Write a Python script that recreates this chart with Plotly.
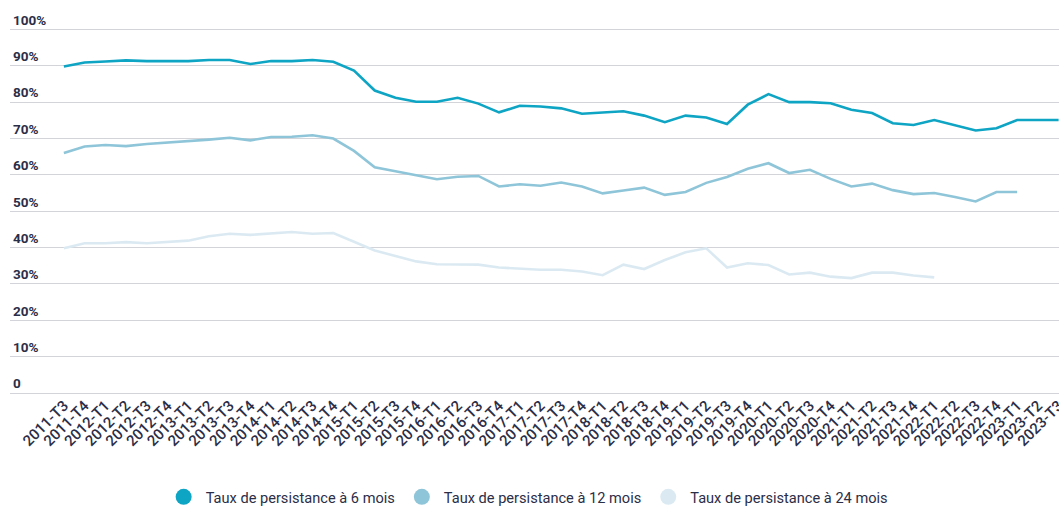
import plotly.graph_objects as go

# Quarterly periods (2011-T3 to 2023-T3)
quarters = (
    ["2011-T3", "2011-T4"]
    + [f"{y}-T{q}" for y in range(2012, 2023) for q in range(1, 5)]
    + ["2023-T1", "2023-T2", "2023-T3"]
)

# Persistence rates (%)
taux_6_mois = [
    89.8, 90.9, 91.2, 91.5, 91.3, 91.3, 91.3, 91.6, 91.6, 90.5,
    91.3, 91.3, 91.6, 91.1, 88.7, 83.2, 81.2, 80.1, 80.1, 81.2,
    79.6, 77.2, 79.0, 78.8, 78.3, 76.8, 77.1, 77.5, 76.3, 74.5,
    76.3, 75.8, 74.0, 79.3, 82.2, 80.0, 80.0, 79.7, 77.9, 77.0,
    74.2, 73.7, 75.1, 73.6, 72.2, 72.8, 75.1, 75.1, 75.1,
]
taux_12_mois = [
    66.0, 67.8, 68.2, 67.9, 68.5, 68.9, 69.1, 69.7, 70.2, 69.5,
    70.4, 70.5, 70.9, 70.0, 66.6, 62.1, 61.0, 60.0, 58.8, 59.5,
    59.7, 56.8, 57.4, 57.0, 57.9, 56.8, 54.9, 55.7, 56.5, 54.5,
    55.3, 57.8, 59.4, 61.7, 63.2, 60.5, 61.4, 58.9, 56.8, 57.6,
    55.8, 54.7, 55.0, 53.9, 52.7, 55.3, 55.3,
]
taux_24_mois = [
    39.8, 41.2, 41.2, 41.5, 41.2, 41.5, 41.9, 43.1, 43.8, 43.5,
    43.8, 44.3, 43.8, 44.0, 41.6, 39.2, 37.7, 36.2, 35.4, 35.4,
    35.3, 34.5, 34.2, 33.9, 33.9, 33.4, 32.4, 35.3, 34.1, 36.6,
    38.7, 39.8, 34.5, 35.7, 35.2, 32.6, 33.1, 32.0, 31.6, 33.1,
    33.1, 32.3, 31.8,
]

series_names = [
    "Taux de persistance à 6 mois",
    "Taux de persistance à 12 mois",
    "Taux de persistance à 24 mois",
]
series_values = [taux_6_mois, taux_12_mois, taux_24_mois]
series_colors = ["#0ea4c4", "#8fc5d8", "#dbeaf2"]

y_tickvals = [0, 10, 20, 30, 40, 50, 60, 70, 80, 90, 100]
y_ticktext = ["0", "10%", "20%", "30%", "40%", "50%", "60%", "70%", "80%", "90%", "100%"]

ink = "#2b2e47"
grid = "#d3d4d9"

fig = go.Figure()

# Draw the lightest series first so the darker ones sit on top
for name, vals, color in reversed(list(zip(series_names, series_values, series_colors))):
    fig.add_trace(go.Scatter(
        x=quarters[:len(vals)], y=vals, mode="lines", name=name,
        line=dict(color=color, width=2.6), showlegend=False,
        hoverinfo="x+y",
    ))

# Round legend swatches
for name, color in zip(series_names, series_colors):
    fig.add_trace(go.Scatter(
        x=[None], y=[None], mode="markers", name=name,
        marker=dict(color=color, size=17, symbol="circle"),
    ))

fig.update_layout(
    width=1059, height=506,
    margin=dict(l=10, r=0, t=3.5, b=113, autoexpand=False),
    paper_bgcolor="white", plot_bgcolor="white",
    font=dict(family="Roboto", color=ink),
    showlegend=True,
    legend=dict(
        orientation="h", x=0.493, xanchor="center", y=-0.267, yanchor="middle",
        font=dict(family="Roboto", size=14.6, color=ink),
        itemsizing="trace", traceorder="normal", itemwidth=34,
    ),
    xaxis=dict(
        type="category", categoryorder="array", categoryarray=quarters,
        range=[-2.6, 48.02], tickangle=-45, showgrid=False, zeroline=False,
        showline=False, ticks="", automargin=False,
        tickfont=dict(family="Roboto", size=15, color=ink, weight=500),
    ),
    yaxis=dict(
        range=[0, 107], tickvals=y_tickvals, ticktext=y_ticktext,
        ticklabelposition="inside top", showgrid=True, gridcolor=grid,
        gridwidth=1.3, zeroline=True, zerolinecolor=grid, zerolinewidth=1.3,
        showline=False, ticks="", automargin=False,
        tickfont=dict(family="Roboto", size=13.5, color=ink, weight="bold"),
    ),
)

fig.write_html("out.html")
